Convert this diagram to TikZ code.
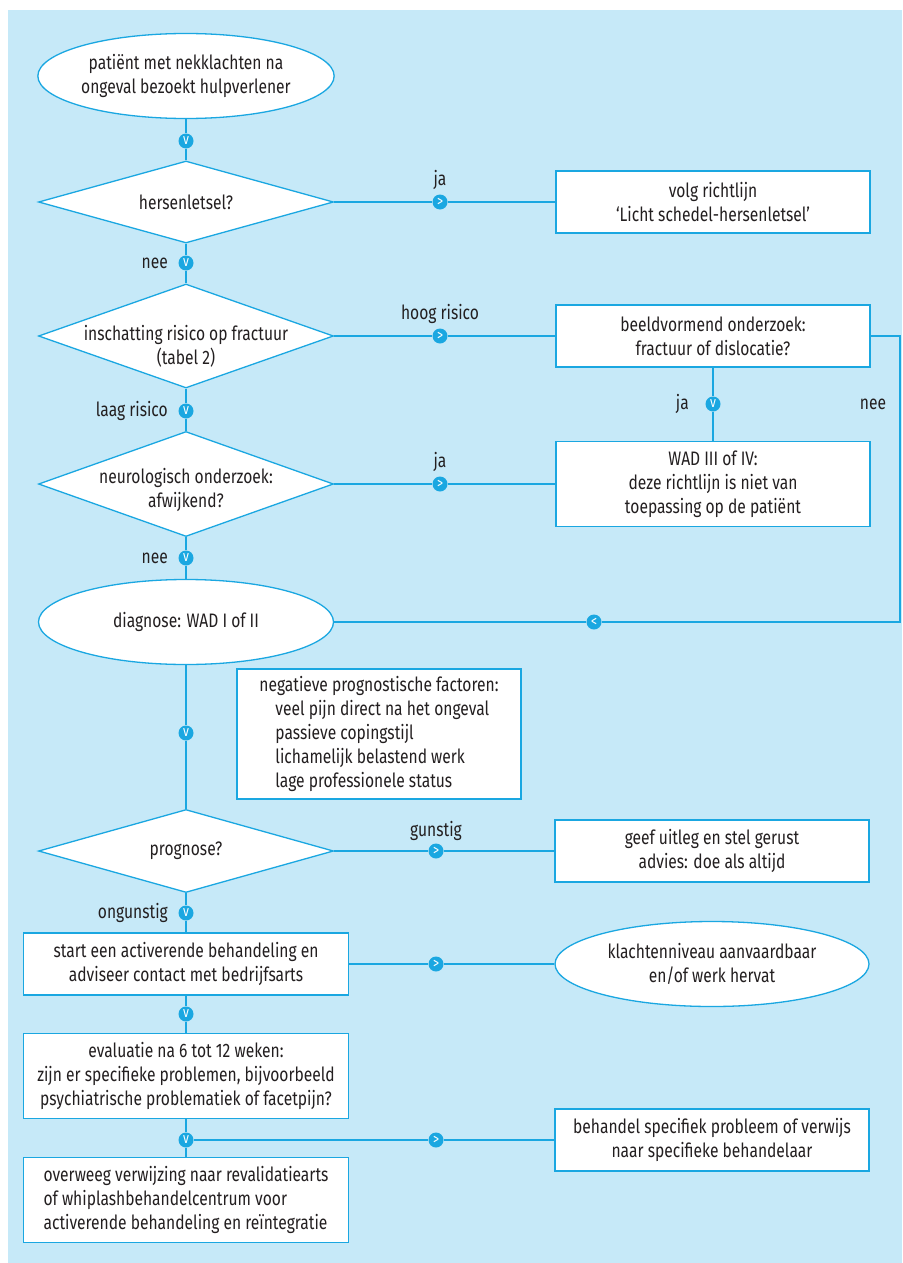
\documentclass[tikz,border=0pt]{standalone}
\usepackage{fontspec}
\setmainfont{Fira Sans}[FakeStretch=0.8]
\usetikzlibrary{positioning, shapes.geometric}
\definecolor{bgblue}{HTML}{C6E9F8}
\definecolor{lineblue}{HTML}{1AA7E1}
\definecolor{textgray}{HTML}{231F20}

\begin{document}
\begin{tikzpicture}[x=1pt, y=-1pt]

	\tikzstyle{every node}=[font=\fontsize{19.5}{24}\selectfont, text=textgray]
	\tikzstyle{terminal} = [ellipse, draw=lineblue, fill=white, line width=1.3pt, minimum width=295pt, minimum height=85pt, inner sep=0pt, align=center]
	\tikzstyle{decision} = [diamond, draw=lineblue, fill=white, line width=1.3pt, minimum width=295pt, minimum height=82pt, aspect=3, inner sep=-18pt, align=center]
	\tikzstyle{process}  = [rectangle, draw=lineblue, fill=white, line width=1.3pt, minimum width=314pt, minimum height=62pt, inner sep=0pt, align=center]
	\tikzstyle{chev}     = [circle, fill=lineblue, minimum size=15pt, inner sep=0pt, text=white, font=\fontsize{15}{15}\selectfont]
	\tikzstyle{line}     = [draw=lineblue, line width=1.3pt]

	\useasboundingbox (0,0) rectangle (902,1263);
	\fill[bgblue] (8,10) rectangle (902,1263);

	% hoofdlijn
	\node[terminal] (start) at (186,76) {patiënt met nekklachten na\\ongeval bezoekt hulpverlener};
	\node[chev] (m1) at (186,141) {v};
	\node[decision] (hers) at (186,202) {hersenletsel?};
	\node[chev] (m2) at (186,263) {v};
	\node[decision, minimum height=104pt, text height=60pt] (risk) at (186,336) {inschatting risico op fractuur\\(tabel 2)};
	\node[chev] (m3) at (186,411) {v};
	\node[decision, minimum height=105pt, text height=52pt] (neuro) at (186,484) {neurologisch onderzoek:\\afwijkend?};
	\node[chev] (m4) at (186,558) {v};
	\node[terminal] (diag) at (186,622) {diagnose: WAD I of II};
	\node[chev] (m5) at (186,733) {v};
	\node[decision, minimum height=83pt] (progn) at (186,851) {prognose?};
	\node[chev] (m6) at (186,913) {v};
	\node[process, minimum width=325pt] (startact) at (186,964) {start een activerende behandeling en\\adviseer contact met bedrijfsarts};
	\node[chev] (m7) at (186,1014) {v};
	\node[process, minimum width=325pt, minimum height=85pt] (eval) at (186,1076) {evaluatie na 6 tot 12 weken:\\zijn er specifieke problemen, bijvoorbeeld\\psychiatrische problematiek of facetpijn?};
	\node[chev] (m8) at (186,1140) {v};
	\node[process, minimum width=325pt, minimum height=85pt, align=left] (overw) at (186,1200) {overweeg verwijzing naar revalidatiearts\\of whiplashbehandelcentrum voor\\activerende behandeling en reïntegratie};

	% rechterkolom
	\node[process] (volg) at (713,202) {volg richtlijn\\‘Licht schedel-hersenletsel’};
	\node[process] (beeld) at (713,336) {beeldvormend onderzoek:\\fractuur of dislocatie?};
	\node[chev] (mbja) at (713,404) {v};
	\node[process, minimum height=85pt] (wad) at (713,484) {WAD III of IV:\\deze richtlijn is niet van\\toepassing op de patiënt};
	\node[process] (uitleg) at (712,851) {geef uitleg en stel gerust\\advies: doe als altijd};
	\node[terminal, minimum width=314pt] (klacht) at (712,964) {klachtenniveau aanvaardbaar\\en/of werk hervat};
	\node[process] (spec) at (712,1140) {behandel specifiek probleem of verwijs\\naar specifieke behandelaar};
	\node[process, minimum width=284pt, minimum height=130pt, align=left] (factors) at (379,734) {negatieve prognostische factoren:\\\hspace*{16pt}veel pijn direct na het ongeval\\\hspace*{16pt}passieve copingstijl\\\hspace*{16pt}lichamelijk belastend werk\\\hspace*{16pt}lage professionele status};

	% tussenmarkeringen
	\node[chev] (mhja)  at (440,202) {>};
	\node[chev] (mhoog) at (440,336) {>};
	\node[chev] (mnja)  at (440,484) {>};
	\node[chev] (mgun)  at (436,851) {>};
	\node[chev] (mact)  at (436,964) {>};
	\node[chev] (mspec) at (436,1140) {>};
	\node[chev] (mback) at (594,622) {<};
	\coordinate (loopc) at (900,622);

	% labels
	\node[left=7pt of m2]   (nee1)  {nee};
	\node[left=7pt of m3]   (laag)  {laag risico};
	\node[left=7pt of m4]   (nee2)  {nee};
	\node[left=7pt of m6]   (ongun) {ongunstig};
	\node[left=13pt of mbja] (ja4)  {ja};
	\node[above=1pt of mhja]  (ja1)  {ja};
	\node[above=1pt of mhoog] (hoog) {hoog risico};
	\node[above=1pt of mnja]  (ja2)  {ja};
	\node[above=-1pt of mgun] (gun)  {gunstig};

	% verbindingen
	\draw[line] (start) -- (m1) -- (hers);
	\draw[line] (hers) -- (m2) -- (risk);
	\draw[line] (risk) -- (m3) -- (neuro);
	\draw[line] (neuro) -- (m4) -- (diag);
	\draw[line] (diag) -- (m5) -- (progn);
	\draw[line] (progn) -- (m6) -- (startact);
	\draw[line] (startact) -- (m7) -- (eval);
	\draw[line] (eval) -- (m8) -- (overw);
	\draw[line] (hers) -- (mhja) -- (volg);
	\draw[line] (risk) -- (mhoog) -- (beeld);
	\draw[line] (neuro) -- (mnja) -- (wad);
	\draw[line] (beeld) -- (mbja) -- (wad);
	\draw[line] (progn) -- (mgun) -- (uitleg);
	\draw[line] (startact) -- (mact) -- (klacht);
	\draw[line] (m8) -- (mspec) -- (spec);
	\draw[line] (beeld.east) -| node[pos=0.62, left=10pt] (nee3) {nee} (loopc) -- (mback) -- (diag);

\end{tikzpicture}
\end{document}
